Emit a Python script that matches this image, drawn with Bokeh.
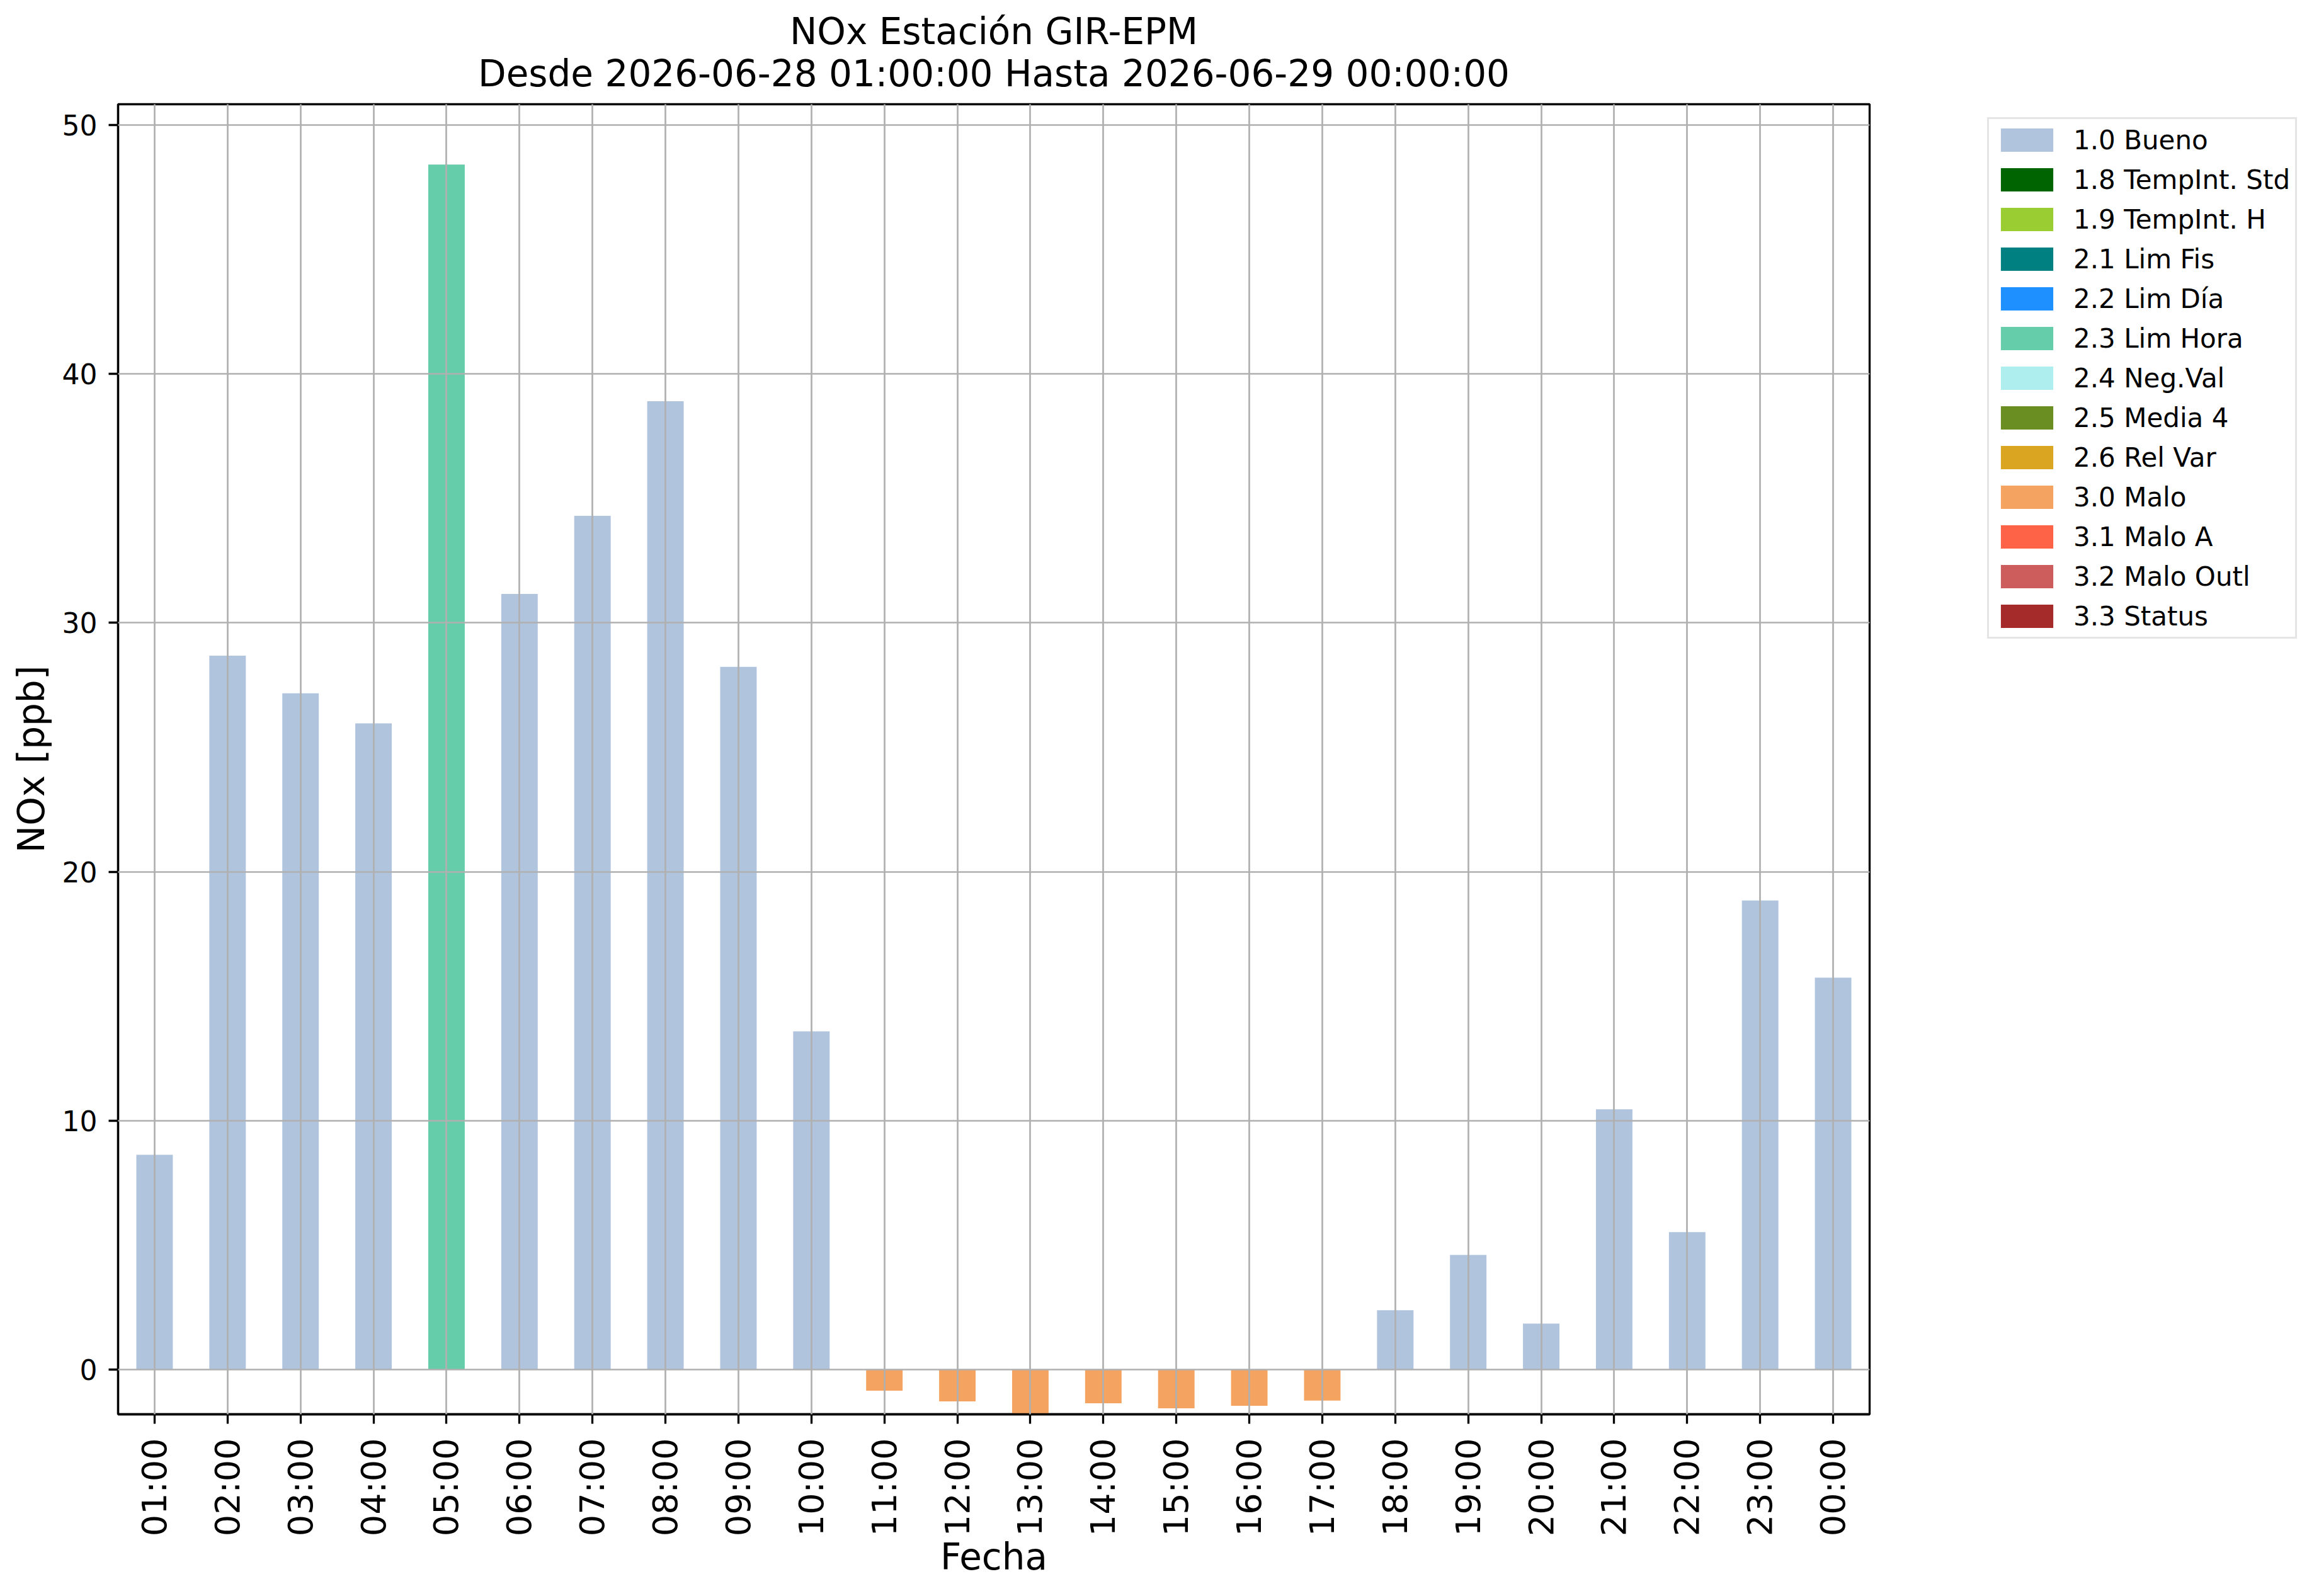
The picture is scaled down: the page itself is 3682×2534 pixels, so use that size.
import math
from bokeh.plotting import figure
from bokeh.layouts import row
from bokeh.models import (ColumnDataSource, FactorRange, Range1d, Legend, LegendItem,
                          Title, SingleIntervalTicker)
from bokeh.embed import file_html
from bokeh.resources import INLINE

# ---- data ----
hours = ["01:00", "02:00", "03:00", "04:00", "05:00", "06:00", "07:00", "08:00",
         "09:00", "10:00", "11:00", "12:00", "13:00", "14:00", "15:00", "16:00",
         "17:00", "18:00", "19:00", "20:00", "21:00", "22:00", "23:00", "00:00"]
nox = [8.63, 28.68, 27.17, 25.96, 48.41, 31.16, 34.30, 38.90,
       28.23, 13.59, -0.84, -1.27, -1.79, -1.35, -1.55, -1.45,
       -1.24, 2.39, 4.61, 1.85, 10.46, 5.53, 18.85, 15.75]
flags = (["1.0 Bueno"] * 4 + ["2.3 Lim Hora"] + ["1.0 Bueno"] * 5 +
         ["3.0 Malo"] * 7 + ["1.0 Bueno"] * 7)
categories = ["1.0 Bueno", "1.8 TempInt. Std", "1.9 TempInt. H", "2.1 Lim Fis",
              "2.2 Lim Día", "2.3 Lim Hora", "2.4 Neg.Val", "2.5 Media 4",
              "2.6 Rel Var", "3.0 Malo", "3.1 Malo A", "3.2 Malo Outl", "3.3 Status"]
cat_colors = ["#B0C4DE", "#006400", "#9ACD32", "#008080", "#1E90FF", "#66CDAA",
              "#AFEEEE", "#6B8E23", "#DAA520", "#F4A460", "#FF6347", "#CD5C5C",
              "#A52A2A"]
title_line1 = "NOx Estación GIR-EPM"
title_line2 = "Desde 2026-06-28 01:00:00 Hasta 2026-06-29 00:00:00"

FONT = "DejaVu Sans"
H = 2518

# ---- main chart ----
p = figure(width=3000, height=H, x_range=FactorRange(factors=hours, range_padding=0),
           y_range=Range1d(min(nox), max(nox) * 1.05),
           output_backend="svg", toolbar_location=None, title=None,
           min_border_left=187, min_border_right=32, min_border_top=165,
           min_border_bottom=273)
p.background_fill_color = "white"
p.border_fill_color = "white"
p.outline_line_color = "black"
p.outline_line_width = 3.3

for cat, col in zip(categories, cat_colors):
    xs = [h for h, f in zip(hours, flags) if f == cat]
    ys = [v for v, f in zip(nox, flags) if f == cat]
    if xs:
        src = ColumnDataSource(data=dict(x=xs, top=ys))
        p.vbar(x="x", top="top", bottom=0, width=0.5, source=src,
               fill_color=col, line_color=None)

for g in (p.xgrid, p.ygrid):
    g.grid_line_color = "#b0b0b0"
    g.grid_line_width = 2.7
    g.level = "annotation"

p.yaxis.ticker = SingleIntervalTicker(interval=10)
p.yaxis.minor_tick_line_color = None
for ax in (p.xaxis, p.yaxis):
    ax.axis_line_color = "black"
    ax.axis_line_width = 3.3
    ax.major_tick_line_width = 3.3
    ax.major_tick_out = 15
    ax.major_tick_in = 0
    ax.major_label_text_font = FONT
    ax.major_label_text_color = "black"
    ax.axis_label_text_font = FONT
    ax.axis_label_text_font_style = "normal"
    ax.axis_label_text_font_size = "58px"
    ax.axis_label_text_color = "black"

p.yaxis.major_label_text_font_size = "44px"
p.yaxis.major_label_standoff = 18
p.yaxis.axis_label = "NOx [ppb]"
p.yaxis.axis_label_standoff = 12

p.xaxis.major_label_text_font_size = "54px"
p.xaxis.major_label_orientation = math.pi / 2
p.xaxis.major_label_standoff = 23
p.xaxis.axis_label = "Fecha"
p.xaxis.axis_label_standoff = -4

# titles (first added is closest to the plot frame)
p.add_layout(Title(text=title_line2, align="center", text_font=FONT,
                   text_font_size="58px", text_font_style="normal",
                   text_color="black", standoff=29), "above")
p.add_layout(Title(text=title_line1, align="center", text_font=FONT,
                   text_font_size="58px", text_font_style="normal",
                   text_color="black", standoff=-35), "above")

# ---- legend panel (separate canvas to the right of the chart) ----
pl = figure(width=666, height=H, x_range=Range1d(0, 1), y_range=Range1d(0, 1),
            output_backend="svg", toolbar_location=None, title=None,
            x_axis_type=None, y_axis_type=None,
            min_border_left=0, min_border_right=0, min_border_top=0,
            min_border_bottom=0)
pl.outline_line_color = None
pl.xgrid.visible = False
pl.ygrid.visible = False
pl.background_fill_color = "white"
pl.border_fill_color = "white"

items = []
for cat, col in zip(categories, cat_colors):
    src = ColumnDataSource(data=dict(x=[0.5], top=[float("nan")]))
    r = pl.vbar(x="x", top="top", bottom=0, width=0.1, source=src,
                fill_color=col, line_color=None)
    items.append(LegendItem(label=cat, renderers=[r]))

legend = Legend(items=items, location=(155, 1231), orientation="vertical",
                label_text_font=FONT, label_text_font_size="42px",
                label_text_color="black",
                glyph_width=104, glyph_height=46, label_height=50,
                spacing=13, padding=8, label_standoff=22, margin=0,
                border_line_color="#cccccc", border_line_width=3.5,
                background_fill_color="white", background_fill_alpha=0.8)
pl.add_layout(legend, "center")

layout = row(p, pl)
open("out.html", "w").write(file_html(layout, INLINE))
